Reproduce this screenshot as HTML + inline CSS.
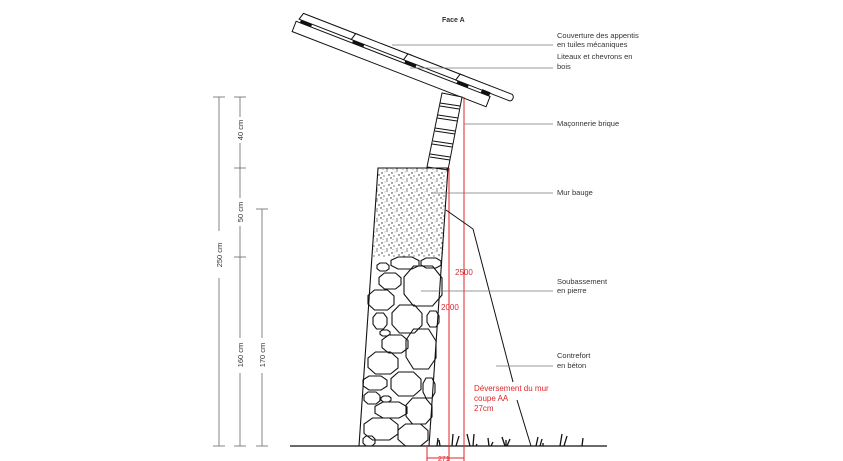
<!DOCTYPE html>
<html><head><meta charset="utf-8"><style>
html,body{margin:0;padding:0;background:#fff;}
svg{display:block;font-family:"Liberation Sans",sans-serif;}
</style></head><body>
<svg width="843" height="461" viewBox="0 0 843 461" xmlns="http://www.w3.org/2000/svg">
<defs>
<pattern id="st" width="10" height="10" patternUnits="userSpaceOnUse">
<circle cx="2" cy="3" r="0.7" fill="#222"/><circle cx="7" cy="1" r="0.6" fill="#222"/><circle cx="9" cy="5" r="0.7" fill="#222"/><circle cx="4" cy="6" r="0.6" fill="#222"/><circle cx="1" cy="8" r="0.7" fill="#222"/><circle cx="7" cy="9" r="0.6" fill="#222"/><circle cx="5" cy="2" r="0.4" fill="#222"/><circle cx="3" cy="9.5" r="0.4" fill="#222"/>
</pattern>
<polygon id="o" points="-1,-0.45 -0.5,-1 0.5,-1 1,-0.4 1,0.45 0.5,1 -0.5,1 -1,0.4" fill="none" stroke="#111" stroke-width="1.1" vector-effect="non-scaling-stroke"/>
</defs>

<g transform="translate(298,22) rotate(21.2)" stroke="#111" stroke-width="1" fill="#fff">
<rect x="-2" y="0" width="208" height="11"/>
<path d="M2,-10 L62,-10 A4,4 0 0 1 62,-3 L0,-3 Z"/>
<path d="M58,-10 L118,-10 A4,4 0 0 1 118,-3 L56,-3 Z"/>
<path d="M114,-10 L174,-10 A4,4 0 0 1 174,-3 L112,-3 Z"/>
<path d="M170,-10 L226,-10 A4,4 0 0 1 226,-3 L168,-3 Z"/>
<g fill="#111" stroke="none">
<rect x="2" y="-3" width="12" height="3"/><rect x="58" y="-3" width="12" height="3"/><rect x="114" y="-3" width="12" height="3"/><rect x="170" y="-3" width="12" height="3"/><rect x="196" y="-4" width="9" height="4"/>
</g>
</g>

<polygon points="442,93 462,97 448,170 427,167" fill="#fff" stroke="#111"/>
<g stroke="#111" stroke-width="1">
<line x1="440" y1="103" x2="460" y2="106"/><line x1="440" y1="106" x2="459" y2="109"/>
<line x1="438" y1="115" x2="458" y2="118"/><line x1="437" y1="118" x2="457" y2="121"/>
<line x1="435" y1="128" x2="455" y2="131"/><line x1="435" y1="131" x2="455" y2="134"/>
<line x1="433" y1="141" x2="453" y2="144"/><line x1="432" y1="144" x2="452" y2="147"/>
<line x1="430" y1="154" x2="450" y2="157"/><line x1="430" y1="157" x2="450" y2="160"/>
</g>

<polygon points="378,168 448,168 443,257 372,257" fill="url(#st)" stroke="none"/>
<polygon points="378,168 448,168 429,446 359,446" fill="none" stroke="#111" stroke-width="1.1"/>
<g>
<use href="#o" transform="translate(383,267) scale(6,4)"/>
<use href="#o" transform="translate(405,263) scale(14,6)"/>
<use href="#o" transform="translate(431,263) scale(10,5)"/>
<use href="#o" transform="translate(390,281) scale(11,8)"/>
<use href="#o" transform="translate(423,286) scale(19,20)"/>
<use href="#o" transform="translate(381,300) scale(13,10)"/>
<use href="#o" transform="translate(407,319) scale(15,14)"/>
<use href="#o" transform="translate(433,319) scale(6,8)"/>
<use href="#o" transform="translate(380,321) scale(7,8)"/>
<use href="#o" transform="translate(385,333) scale(5,3)"/>
<use href="#o" transform="translate(395,344) scale(13,9)"/>
<use href="#o" transform="translate(421,349) scale(15,20)"/>
<use href="#o" transform="translate(383,363) scale(15,11)"/>
<use href="#o" transform="translate(406,384) scale(15,12)"/>
<use href="#o" transform="translate(429,388) scale(6,10)"/>
<use href="#o" transform="translate(375,383) scale(12,7)"/>
<use href="#o" transform="translate(386,399) scale(5,3)"/>
<use href="#o" transform="translate(372,398) scale(8,6)"/>
<use href="#o" transform="translate(391,410) scale(16,8)"/>
<use href="#o" transform="translate(419,411) scale(13,13)"/>
<use href="#o" transform="translate(381,429) scale(17,11)"/>
<use href="#o" transform="translate(413,435) scale(15,11)"/>
<use href="#o" transform="translate(369,441) scale(6,5)"/>
</g>

<line x1="290" y1="446" x2="607" y2="446" stroke="#111" stroke-width="1.2"/>
<g stroke="#111" stroke-width="1.3">
<path d="M437,446 l1,-8 M440,446 l-1,-6"/><path d="M452,446 l1,-12 M456,446 l3,-10"/>
<path d="M470,446 l-3,-12 M473,446 l1,-12 M476,446 l1,-2"/>
<path d="M489,446 l-1,-8 M491,446 l2,-4"/><path d="M505,446 l-3,-9 M507,446 l3,-7 M506,446 l0,-6"/>
<path d="M536,446 l2,-9 M540,446 l2,-7 M543,446 l0,-3"/><path d="M560,446 l2,-12 M564,446 l3,-10"/><path d="M582,446 l1,-8"/>
</g>

<g stroke="#e0252a" stroke-width="1" fill="none">
<line x1="449" y1="168" x2="449" y2="461"/>
<line x1="464" y1="97" x2="464" y2="461"/>
<line x1="427" y1="446" x2="427" y2="461"/>
<line x1="427" y1="458" x2="464" y2="458"/>
</g>
<g fill="#e0252a" font-size="8">
<text x="455" y="275">2500</text>
<text x="441" y="310">2000</text>
<text x="438" y="461" font-size="7">271</text>
<text x="474" y="391">Déversement du mur</text>
<text x="474" y="401">coupe AA</text>
<text x="474" y="411">27cm</text>
</g>

<polyline points="446,210 473,229 513,382" fill="none" stroke="#111"/>
<line x1="517" y1="400" x2="531" y2="446" stroke="#111"/>

<g stroke="#777" stroke-width="0.8">
<line x1="392" y1="45" x2="553" y2="45"/>
<line x1="410" y1="68" x2="553" y2="68"/>
<line x1="464" y1="124" x2="553" y2="124"/>
<line x1="432" y1="193" x2="553" y2="193"/>
<line x1="421" y1="291" x2="553" y2="291"/>
<line x1="496" y1="366" x2="553" y2="366"/>
</g>
<g fill="#333" font-size="7.5">
<text x="442" y="22" font-weight="bold" font-size="7">Face A</text>
<text x="557" y="38">Couverture des appentis</text>
<text x="557" y="47">en tuiles mécaniques</text>
<text x="557" y="59">Liteaux et chevrons en</text>
<text x="557" y="69">bois</text>
<text x="557" y="126">Maçonnerie brique</text>
<text x="557" y="195">Mur bauge</text>
<text x="557" y="284">Soubassement</text>
<text x="557" y="293">en pierre</text>
<text x="557" y="358">Contrefort</text>
<text x="557" y="368">en béton</text>
</g>

<g stroke="#777" stroke-width="0.9">
<line x1="219" y1="97" x2="219" y2="231"/><line x1="219" y1="278" x2="219" y2="446"/>
<line x1="213" y1="97" x2="225" y2="97"/><line x1="213" y1="446" x2="225" y2="446"/>
<line x1="240" y1="97" x2="240" y2="117"/><line x1="240" y1="143" x2="240" y2="198"/><line x1="240" y1="226" x2="240" y2="338"/><line x1="240" y1="373" x2="240" y2="446"/>
<line x1="234" y1="97" x2="246" y2="97"/><line x1="234" y1="168" x2="246" y2="168"/><line x1="234" y1="257" x2="246" y2="257"/><line x1="234" y1="446" x2="246" y2="446"/>
<line x1="262" y1="209" x2="262" y2="338"/><line x1="262" y1="373" x2="262" y2="446"/>
<line x1="256" y1="209" x2="268" y2="209"/><line x1="256" y1="446" x2="268" y2="446"/>
</g>
<g fill="#333" font-size="7.5" text-anchor="middle">
<text transform="translate(222,255) rotate(-90)">250 cm</text>
<text transform="translate(243,130) rotate(-90)">40 cm</text>
<text transform="translate(243,212) rotate(-90)">50 cm</text>
<text transform="translate(243,355) rotate(-90)">160 cm</text>
<text transform="translate(265,355) rotate(-90)">170 cm</text>
</g>
</svg>
</body></html>
